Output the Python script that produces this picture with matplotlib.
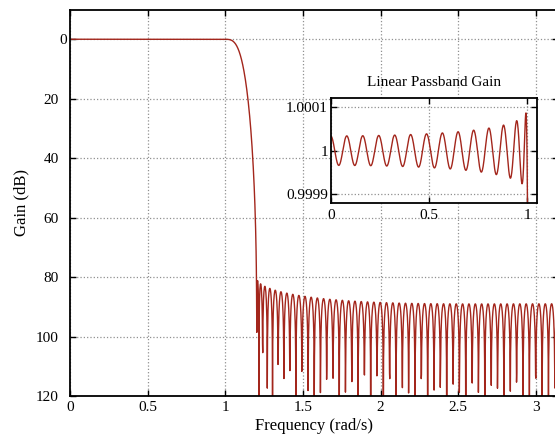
import numpy as np
import matplotlib.pyplot as plt
from matplotlib.transforms import ScaledTranslation

# filter spec (least squares lowpass FIR)
num_taps = 155
band_edges = [0.0, 1.0, 1.2, np.pi]   # rad/s
band_gains = [1.0, 1.0, 0.0, 0.0]
band_weights = [1.0, 1.0]
grid_points = [2500, 5000]
reweight_steps = 1
n_freq = 2048

x_ticks = [0, 0.5, 1, 1.5, 2, 2.5, 3]
x_ticklabels = ['0', '0.5', '1', '1.5', '2', '2.5', '3']
y_ticks = [0, 20, 40, 60, 80, 100, 120]
inset_xticks = [0, 0.5, 1]
inset_xticklabels = ['0', '0.5', '1']
inset_yticks = [0.9999, 1.0, 1.0001]
inset_yticklabels = ['0.9999', '1', '1.0001']

line_color = '#a3261c'

# design: least squares, then one Lawson reweighting step
L = (num_taps - 1) // 2
k = np.arange(L + 1)
wg, dg, wt = [], [], []
for b in range(2):
    wg.append(np.linspace(band_edges[2*b], band_edges[2*b+1], grid_points[b]))
    dg.append(np.linspace(band_gains[2*b], band_gains[2*b+1], grid_points[b]))
    wt.append(np.full(grid_points[b], band_weights[b]))
wg = np.concatenate(wg)
dg = np.concatenate(dg)
wt = np.concatenate(wt)
wt = wt / wt.sum()
Cg = np.cos(np.outer(wg, k))
for i in range(reweight_steps + 1):
    sw = np.sqrt(wt)
    a = np.linalg.lstsq(Cg * sw[:, None], dg * sw, rcond=None)[0]
    wt = wt * np.abs(Cg @ a - dg)
    wt = wt / wt.sum()

# response sampled like freqz
freq = np.arange(n_freq) * np.pi / n_freq
amp = np.cos(np.outer(freq, k)) @ a
att = -20 * np.log10(np.maximum(np.abs(amp), 1e-12))

plt.rcParams['font.family'] = ['Liberation Serif', 'DejaVu Serif']
plt.rcParams['font.size'] = 11

fig = plt.figure(figsize=(5.55, 4.36), dpi=100)
ax = fig.add_axes([0.1261, 0.0917, 0.8793, 0.8865])
ax.plot(freq, att, color=line_color, lw=1.0)
ax.set_xlim(0, np.pi)
ax.set_ylim(120, -10)
ax.set_xticks(x_ticks)
ax.set_xticklabels(x_ticklabels)
ax.set_yticks(y_ticks)
ax.grid(True, ls=':', color='#909090', lw=0.9)
ax.tick_params(direction='in', top=True, right=True, length=4, width=1)
ax.tick_params(axis='y', pad=8)
for s in ax.spines.values():
    s.set_linewidth(1.3)
# the 0 label sits closer to the axis in the original
for lab in ax.get_yticklabels():
    if lab.get_text() == '0':
        lab.set_transform(lab.get_transform() + ScaledTranslation(8.5/100, 0, fig.dpi_scale_trans))
ax.set_xlabel('Frequency (rad/s)', fontsize=12, labelpad=3)
ax.set_ylabel('Gain (dB)', fontsize=12, labelpad=5)

ins = fig.add_axes([0.596, 0.5344, 0.371, 0.2401])
pb = freq <= 1.06
ins.plot(freq[pb], amp[pb], color=line_color, lw=1.0)
ins.set_xlim(0, 1.047)
ins.set_ylim(0.99988, 1.00012)
ins.set_xticks(inset_xticks)
ins.set_xticklabels(inset_xticklabels)
ins.set_yticks(inset_yticks)
ins.set_yticklabels(inset_yticklabels)
ins.grid(True, ls=':', color='#909090', lw=0.9)
ins.tick_params(direction='in', top=True, right=True, length=4, width=1, pad=4)
ins.tick_params(axis='y', pad=2)
for s in ins.spines.values():
    s.set_linewidth(1.3)
ins.set_title('Linear Passband Gain', fontsize=11, pad=9)

fig.savefig('out.png', dpi=100)
